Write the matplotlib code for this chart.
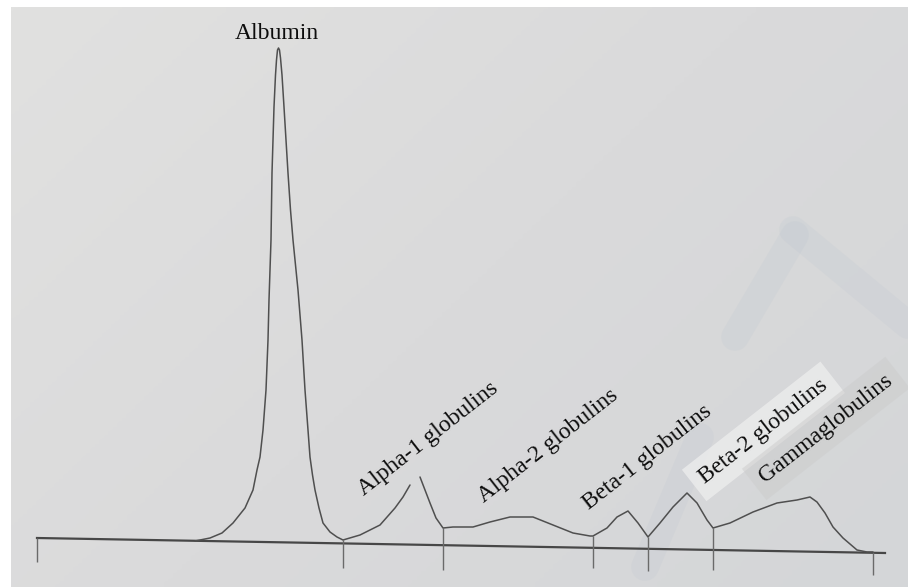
import numpy as np
import matplotlib
matplotlib.use("Agg")
import matplotlib.pyplot as plt
from matplotlib.colors import LinearSegmentedColormap

# hand-drawn serum protein electrophoresis trace (units)
# first stroke: albumin peak + rising alpha-1 flank
stroke1_x = [195, 210, 222, 233, 245, 253, 257, 260, 263, 266, 268, 269, 271, 272,
             274, 275.5, 276.5, 277.5, 278.5, 279.5, 280.5, 282, 284, 286, 288, 290.5,
             293, 298, 302, 305, 308, 310, 312.5, 315, 319, 323, 330, 337, 343,
             360, 380, 395, 403, 410]
stroke1_y = [46, 49, 54, 64, 79, 97, 117, 130, 157, 197, 247, 287, 347, 414,
             480, 512, 527, 537, 539, 537, 529, 512, 480, 447, 414, 377,
             347, 297, 247, 197, 157, 130, 112, 97, 79, 64, 55, 50, 47,
             52, 62, 79, 90, 102]

# second stroke: alpha-1 tail through gammaglobulins
stroke2_x = [420, 425, 430, 436, 443, 453, 473, 490, 510, 533, 553, 573, 590, 593,
             607, 617, 628, 638, 648, 660, 673, 687, 697, 707, 713, 730, 753, 777,
             797, 810, 817, 825, 833, 843, 857, 867, 873]
stroke2_y = [110, 97, 84, 69, 59, 60, 60, 65, 70, 70, 62, 54, 51, 51,
             59, 70, 76, 64, 50, 64, 80, 94, 84, 67, 59, 64, 75, 84,
             87, 90, 85, 74, 60, 49, 37, 35, 35]

baseline_x = [37, 885]
baseline_y = [49, 34]

# fraction dividers
divider_x = [37, 343, 443, 593, 648, 713, 873]
divider_top = [49, 47, 59, 51, 50, 59, 35]
divider_bottom = [25, 19, 17, 19, 16, 17, 12]

fractions = ["Alpha-1 globulins", "Alpha-2 globulins", "Beta-1 globulins",
             "Beta-2 globulins", "Gammaglobulins"]
fraction_x = [364, 484, 589, 705, 765]
fraction_y = [91, 84, 77, 103, 104]

W, H = 908, 587
fig = plt.figure(figsize=(W / 100, H / 100), dpi=100)
fig.patch.set_facecolor("white")
ax = fig.add_axes([0, 0, 1, 1])
ax.set_xlim(0, W)
ax.set_ylim(0, H)
ax.axis("off")

# photo-like paper background
paper = LinearSegmentedColormap.from_list("paper", ["#e1e1e0", "#dadadb", "#d4d6d8"])
gx, gy = np.meshgrid(np.linspace(0, 1, 200), np.linspace(0, 1, 200))
ax.imshow(0.6 * gx + 0.4 * gy, cmap=paper, extent=(11, W, 0, H - 7),
          aspect="auto", zorder=0)

# faint watermark strokes from the photo
wm = dict(color="#9fb2c6", lw=20, alpha=0.09, solid_capstyle="round", zorder=1)
ax.plot([793, 908], [357, 262], **wm)
ax.plot([795, 735], [352, 250], **wm)
ax.plot([700, 645], [150, 20], **wm)

line_kw = dict(color="#4f4f4f", lw=1.1, solid_capstyle="round",
               solid_joinstyle="round", zorder=3)
ax.plot(baseline_x, baseline_y, color="#474747", lw=1.6, zorder=2)
ax.plot(stroke1_x, stroke1_y, **line_kw)
ax.plot(stroke2_x, stroke2_y, **line_kw)
ax.vlines(divider_x, divider_bottom, divider_top, color="#6a6a6a", lw=1.0, zorder=2)

serif = ["Liberation Serif", "DejaVu Serif"]
ax.text(277, 548, "Albumin", family=serif, fontsize=17, color="#0d0d0d",
        ha="center", va="baseline")

boxes = [None, None, None, "#eeeeee", "#cccccc"]
box_alpha = [0, 0, 0, 0.75, 0.5]
for name, x, y, box, a in zip(fractions, fraction_x, fraction_y, boxes, box_alpha):
    kw = {}
    if box:
        kw["bbox"] = dict(boxstyle="square,pad=0.4", fc=box, ec="none", alpha=a)
    ax.text(x, y, name, family=serif, fontsize=17, color="#0d0d0d",
            rotation=38, rotation_mode="anchor", ha="left", va="baseline",
            zorder=4, **kw)

fig.savefig("out.png", dpi=100)
